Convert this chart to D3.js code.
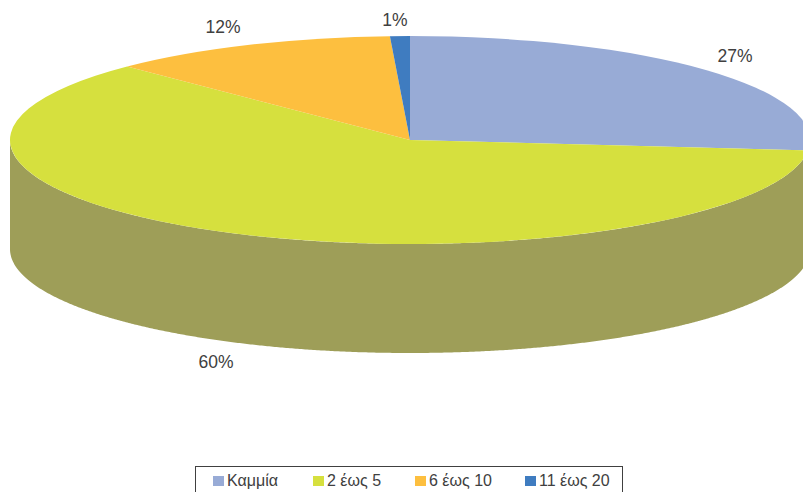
<!DOCTYPE html>
<html>
<head>
<meta charset="utf-8">
<script src="https://cdn.jsdelivr.net/npm/d3@7"></script>
<style>
  html, body { margin: 0; padding: 0; background: #fff; overflow: hidden; }
  text { font-family: "Liberation Sans", Arial, sans-serif; fill: #404040; }
</style>
</head>
<body>
<script>
var categories = ['Καμμία', '2 έως 5', '6 έως 10', '11 έως 20'];
var values = [26.6, 60.9, 11.7, 0.8];
var percentLabels = ['27%', '60%', '12%', '1%'];
var topColors = ['#98abd6', '#d6e03e', '#fdbf3f', '#3f7cc0'];
var sideColors = ['#6f7f9f', '#9e9e58', '#b08a30', '#2f5c90'];

var width = 803, height = 492;
var cx = 410, cy = 140, rx = 400, ry = 104, depth = 109;

// label anchor points, relative to the pie centre
var labelPos = [[325, -78], [-194, 228], [-187, -107], [-15, -114]];

var svg = d3.select('body').append('svg')
  .attr('width', width)
  .attr('height', height)
  .style('display', 'block');

var slices = d3.pie().sort(null).startAngle(0).endAngle(2 * Math.PI)(values);

// x and y of the flattened ellipse for an angle measured clockwise from the top
var ex = function(a) { return cx + rx * Math.sin(a); };
var ey = function(a) { return cy - ry * Math.cos(a); };

var wall = d3.area()
  .x(function(a) { return ex(a); })
  .y0(function(a) { return ey(a); })
  .y1(function(a) { return ey(a) + depth; });

// only the front half of the rim has a visible wall
slices.forEach(function(d, i) {
  var a0 = Math.max(d.startAngle, Math.PI / 2);
  var a1 = Math.min(d.endAngle, 3 * Math.PI / 2);
  if (a1 <= a0) return;
  svg.append('path')
    .attr('d', wall(d3.range(a0, a1, 0.005).concat([a1])))
    .attr('fill', sideColors[i]);
});

var arc = d3.arc().innerRadius(0).outerRadius(rx);

svg.append('g')
  .attr('transform', 'translate(' + cx + ',' + cy + ') scale(1,' + (ry / rx) + ')')
  .selectAll('path')
  .data(slices)
  .enter().append('path')
  .attr('d', arc)
  .attr('fill', function(d, i) { return topColors[i]; });

svg.append('g').selectAll('text')
  .data(percentLabels)
  .enter().append('text')
  .attr('x', function(d, i) { return cx + labelPos[i][0]; })
  .attr('y', function(d, i) { return cy + labelPos[i][1]; })
  .attr('text-anchor', 'middle')
  .attr('font-size', 17.5)
  .text(function(d) { return d; });

// legend, cut off by the bottom of the picture like the original
var swatchX = d3.scaleOrdinal().domain(categories).range([213, 313, 415, 525]);

svg.append('rect')
  .attr('x', 195.5)
  .attr('y', 466.5)
  .attr('width', 427)
  .attr('height', 40)
  .attr('fill', '#fff')
  .attr('stroke', '#404040');

var items = svg.append('g').selectAll('g')
  .data(categories)
  .enter().append('g')
  .attr('transform', function(d) { return 'translate(' + swatchX(d) + ',476)'; });

items.append('rect')
  .attr('width', 11)
  .attr('height', 10)
  .attr('fill', function(d, i) { return topColors[i]; });

items.append('text')
  .attr('x', 14)
  .attr('y', 10)
  .attr('font-size', 16)
  .text(function(d) { return d; });
</script>
</body>
</html>
